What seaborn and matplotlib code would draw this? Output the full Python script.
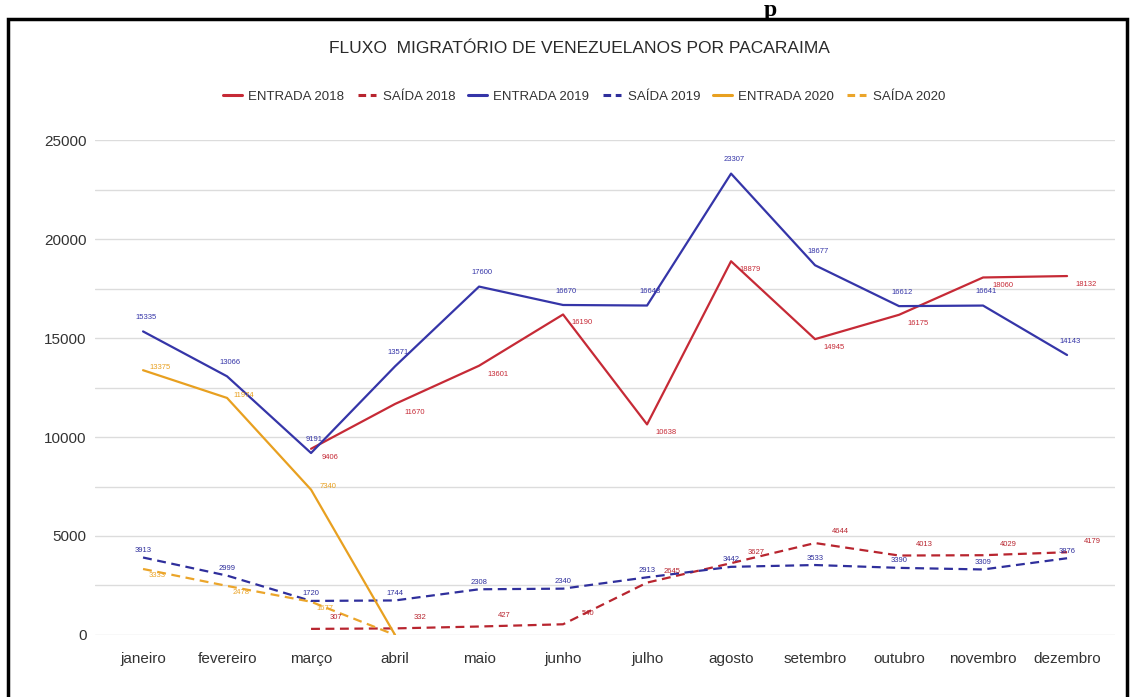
import numpy as np
import pandas as pd
import matplotlib
matplotlib.use("Agg")
import matplotlib.pyplot as plt
from matplotlib.lines import Line2D
from matplotlib.patches import Rectangle
import seaborn as sns

meses = ["janeiro", "fevereiro", "março", "abril", "maio", "junho", "julho",
         "agosto", "setembro", "outubro", "novembro", "dezembro"]
nan = np.nan
entrada_2018 = [nan, nan, 9406, 11670, 13601, 16190, 10638, 18879, 14945, 16175, 18060, 18132]
saida_2018 = [nan, nan, 307, 332, 427, 540, 2645, 3627, 4644, 4013, 4029, 4179]
entrada_2019 = [15335, 13066, 9191, 13571, 17600, 16670, 16643, 23307, 18677, 16612, 16641, 14143]
saida_2019 = [3913, 2999, 1720, 1744, 2308, 2340, 2913, 3442, 3533, 3390, 3309, 3876]
entrada_2020 = [13375, 11974, 7340, 0, nan, nan, nan, nan, nan, nan, nan, nan]
saida_2020 = [3333, 2478, 1677, 0, nan, nan, nan, nan, nan, nan, nan, nan]

series = {
    "ENTRADA 2018": entrada_2018,
    "SAÍDA 2018": saida_2018,
    "ENTRADA 2019": entrada_2019,
    "SAÍDA 2019": saida_2019,
    "ENTRADA 2020": entrada_2020,
    "SAÍDA 2020": saida_2020,
}
cores = {
    "ENTRADA 2018": "#c62a36",
    "SAÍDA 2018": "#b8252f",
    "ENTRADA 2019": "#3535a8",
    "SAÍDA 2019": "#2f2f9c",
    "ENTRADA 2020": "#e8a020",
    "SAÍDA 2020": "#eba52a",
}
tracos = {k: ("" if k.startswith("ENTRADA") else (4, 2.5)) for k in series}

linhas = []
for nome, vals in series.items():
    for i, v in enumerate(vals):
        linhas.append({"serie": nome, "mes": i, "valor": v})
df = pd.DataFrame(linhas).dropna()

sns.set_style("white")
plt.rcParams["font.family"] = ["Liberation Sans", "DejaVu Sans"]

fig = plt.figure(figsize=(11.32, 6.97), dpi=100)
ax = fig.add_axes([0.084, 0.089, 0.901, 0.710])

sns.lineplot(data=df, x="mes", y="valor", hue="serie", style="serie",
             palette=cores, dashes=tracos, linewidth=1.6, legend=False,
             ax=ax, zorder=3)

# rótulos de dados
desloc = {
    "ENTRADA 2018": (14, -6),
    "SAÍDA 2018": (18, 8),
    "ENTRADA 2019": (2, 10),
    "SAÍDA 2019": (0, 5),
    "ENTRADA 2020": (12, 2),
    "SAÍDA 2020": (10, -5),
}
for nome, vals in series.items():
    dx, dy = desloc[nome]
    for i, v in enumerate(vals):
        if np.isnan(v) or v == 0:
            continue
        ax.annotate(f"{int(v)}", (i, v), xytext=(dx, dy), textcoords="offset points",
                    fontsize=5.5, color=cores[nome], ha="center", va="center", zorder=4)

ax.set_xlim(-0.571, 11.571)
ax.set_ylim(0, 25000)
ax.set_yticks(np.arange(0, 25001, 2500))
ax.set_yticklabels([f"{int(t)}" if t % 5000 == 0 else "" for t in np.arange(0, 25001, 2500)])
ax.set_xticks(range(12))
ax.set_xticklabels(meses)
ax.tick_params(axis="x", labelsize=11, colors="#333333", length=0, pad=12)
ax.tick_params(axis="y", labelsize=11, colors="#333333", length=0, pad=6)
ax.grid(axis="y", color="#dcdcdc", linewidth=1)
ax.set_axisbelow(True)
ax.set_xlabel("")
ax.set_ylabel("")
for s in ax.spines.values():
    s.set_visible(False)

fig.text(0.512, 0.931, "FLUXO  MIGRATÓRIO DE VENEZUELANOS POR PACARAIMA",
         ha="center", va="center", fontsize=12.5, color="#2a2a2a")

handles = [Line2D([0], [0], color=cores[k], lw=2.2,
                  linestyle="-" if k.startswith("ENTRADA") else (0, (2.5, 1.5)))
           for k in series]
fig.legend(handles, list(series.keys()), loc="center", bbox_to_anchor=(0.516, 0.861),
           ncol=6, frameon=False, fontsize=9.5, handlelength=1.4, handletextpad=0.5,
           columnspacing=1.0, labelcolor="#333333")

# moldura do recorte
fig.patches.append(Rectangle((8 / 1132, -0.05), 1119 / 1132, 1 - 19 / 697 + 0.05,
                             transform=fig.transFigure, fill=False,
                             edgecolor="black", linewidth=2.5))
fig.text(770 / 1132, 1.0, "p", ha="center", va="top", fontsize=17,
         fontweight="bold", family="Liberation Serif", color="black")

fig.savefig("out.png", dpi=100, facecolor="white")
